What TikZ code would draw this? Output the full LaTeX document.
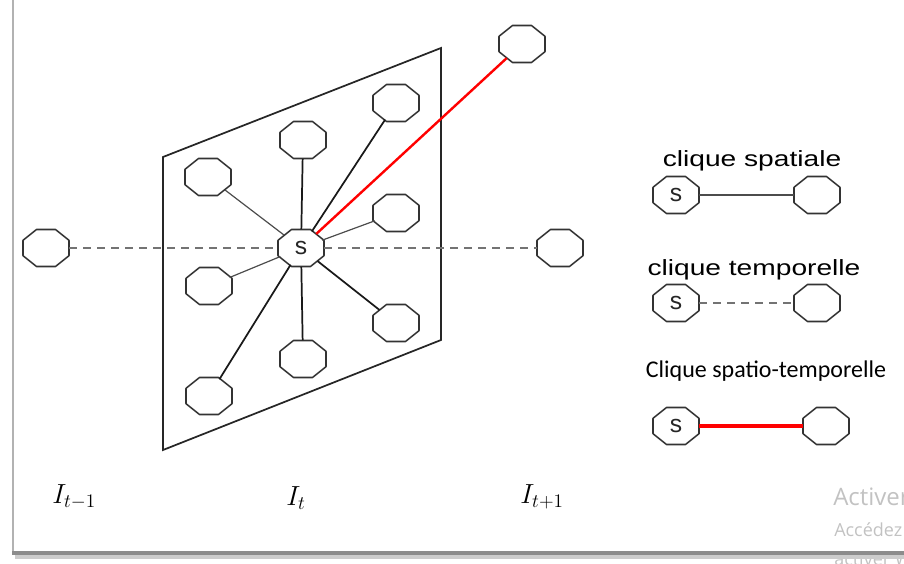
\documentclass[tikz,border=0pt]{standalone}
\usepackage{fontspec}
\usetikzlibrary{shapes.geometric}
\newfontfamily\arialf{Liberation Sans}
\newfontfamily\calf{Carlito}
\newfontfamily\segf{Open Sans}
\begin{document}
\begin{tikzpicture}[x=0.75pt,y=-0.75pt,
  octline/.style={draw=black!80, line width=1.15pt, fill=white, line join=round},
  oct/.style={ellipse, minimum width=34.5pt, minimum height=27.75pt, inner sep=0pt,
    append after command={\pgfextra{\draw[octline] (\tikzlastnode.center) ++(-9.5,-18.5)
      -- ++(19,0) -- ++(13.5,10.8) -- ++(0,15.4) -- ++(-13.5,10.8) -- ++(-19,0)
      -- ++(-13.5,-10.8) -- ++(0,-15.4) -- cycle;}}},
  slab/.style={anchor=center, inner sep=0pt, text=black!85, font=\arialf\fontsize{18.5}{18}\selectfont},
  plane/.style={draw=black!85, line width=1.3pt},
  thinedge/.style={draw=black!70, line width=0.9pt},
  thickedge/.style={draw=black!90, line width=1.3pt},
  tempedge/.style={draw=black!55, line width=1.5pt, dash pattern=on 6pt off 4.5pt},
  redge/.style={draw=red, line width=1.8pt},
  legtxt/.style={anchor=base, inner sep=0pt, font=\arialf\fontsize{16.5}{18}\selectfont},
  ilabel/.style={anchor=base west, inner sep=0pt, font=\fontsize{21}{24}\selectfont},
  wm/.style={anchor=base west, inner sep=0pt, text=black!24}
]
\useasboundingbox (0,0) rectangle (904,564);
\clip (0,0) rectangle (904,564);

% image plane
\coordinate (p1) at (163,157);
\coordinate (p2) at (441,48);
\coordinate (p3) at (441,340);
\coordinate (p4) at (163,450);
\draw[plane] (p1) -- (p2) -- (p3) -- (p4) -- cycle;

% nodes
\node[oct] (S) at (301,248) {};
\node[slab] (Slab) at (S.center) {s};
\node[oct] (a) at (208,177) {};
\node[oct] (b) at (303,140) {};
\node[oct] (c) at (396,103) {};
\node[oct] (d) at (396,213) {};
\node[oct] (e) at (209,286) {};
\node[oct] (f) at (396,323) {};
\node[oct] (g) at (303,359) {};
\node[oct] (h) at (209,396) {};
\node[oct] (L) at (46,248) {};
\node[oct] (R) at (560,248) {};
\node[oct] (T) at (522,44) {};

% spatial cliques
\draw[thinedge] (S) -- (a);
\draw[thickedge] (S) -- (b);
\draw[thickedge] (S) -- (c);
\draw[thinedge] (S) -- (d);
\draw[thinedge] (S) -- (e);
\draw[thickedge] (S) -- (f);
\draw[thickedge] (S) -- (g);
\draw[thickedge] (S) -- (h);
% temporal cliques
\draw[tempedge] (L) -- (S);
\draw[tempedge] (S) -- (R);
% spatio-temporal clique
\draw[redge] (S) -- (T);

% legend
\node[legtxt] (lt1) at (752,166) {\scalebox{1.28}[1]{clique spatiale}};
\node[oct] (ls1) at (676,195) {};
\node[slab] (ls1l) at (ls1.center) {s};
\node[oct] (lo1) at (817,195) {};
\draw[thinedge] (ls1) -- (lo1);

\node[legtxt] (lt2) at (754,275) {\scalebox{1.28}[1]{clique temporelle}};
\node[oct] (ls2) at (676,303) {};
\node[slab] (ls2l) at (ls2.center) {s};
\node[oct] (lo2) at (817,303) {};
\draw[tempedge] (ls2) -- (lo2);

\node[legtxt, font=\calf\fontsize{18}{20}\selectfont] (lt3) at (766,377) {Clique spatio-temporelle};
\node[oct] (ls3) at (676,426) {};
\node[slab] (ls3l) at (ls3.center) {s};
\node[oct] (lo3) at (826,426) {};
\draw[draw=red, line width=2.4pt] (ls3) -- (lo3);

% frame labels
\node[ilabel] (i1) at (52,503) {$I_{t-1}$};
\node[ilabel] (i2) at (286,505) {$I_{t}$};
\node[ilabel] (i3) at (520,503) {$I_{t+1}$};

% watermark (cut by the edge, as in the reference)
\node[wm, font=\segf\fontsize{18}{20}\selectfont] (w1) at (833,505) {Activer};
\node[wm, font=\segf\fontsize{13.5}{16}\selectfont] (w2) at (834,536) {Accédez};
\node[wm, font=\segf\fontsize{13.5}{16}\selectfont] (w3) at (834,565) {activer W};

% outer frame
\draw[draw=black!30, line width=2.2pt] (13,0) -- (13,553);
\draw[draw=black!20, line width=3pt] (15,557) -- (904,557);
\draw[draw=black!45, line width=2.4pt] (12,553) -- (904,553);
\end{tikzpicture}
\end{document}
